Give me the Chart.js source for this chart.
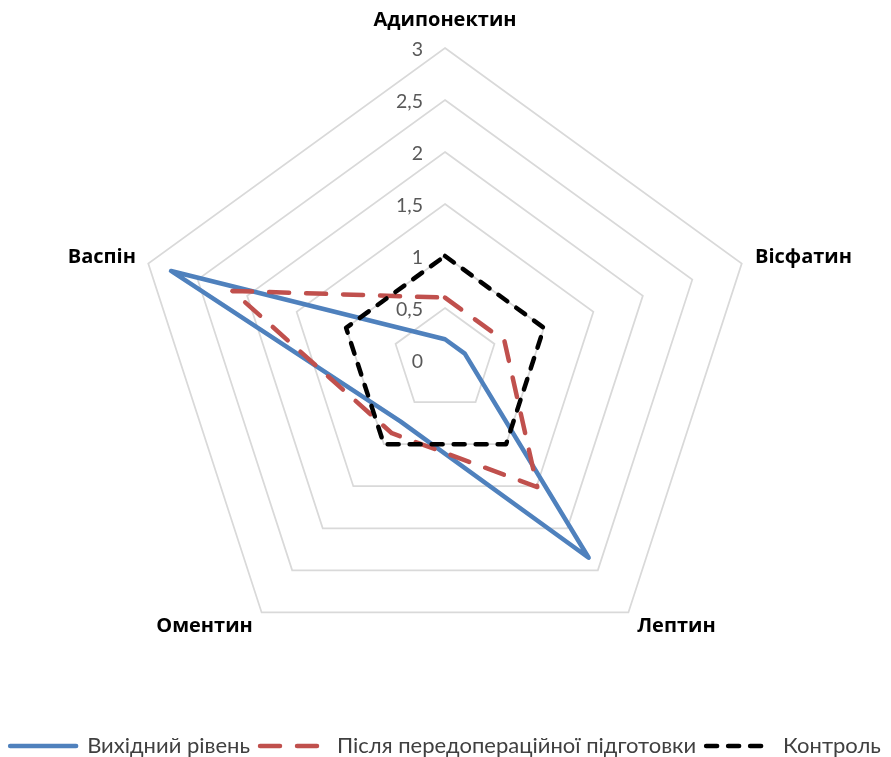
<!DOCTYPE html>
<html lang="uk">
<head>
<meta charset="utf-8">
<title>Адипокіни</title>
<script src="https://cdn.jsdelivr.net/npm/chart.js@4/dist/chart.umd.min.js"></script>
<style>
  html, body { margin: 0; padding: 0; background: #ffffff; }
  #wrap { width: 891px; height: 757px; }
</style>
</head>
<body>
<div id="wrap"><canvas id="chart" width="891" height="757"></canvas></div>
<script>
// Adipokine profile: categories and series values
const categories = ['Адипонектин', 'Вісфатин', 'Лептин', 'Оментин', 'Васпін'];
const seriesNames = ['Вихідний рівень', 'Після передопераційної підготовки', 'Контроль'];
const baselineValues = [0.2, 0.2, 2.35, 0.73, 2.77];
const afterPrepValues = [0.6, 0.6, 1.51, 0.87, 2.15];
const controlValues = [1, 1, 1, 1, 1];
const tickLabels = ['0', '0,5', '1', '1,5', '2', '2,5', '3'];
const AXIS_MIN = 0;
const AXIS_MAX = 3;
const AXIS_STEP = 0.5;

// Layout of the radar web
const WEB_CENTER_Y = 360;
const WEB_RADIUS = 312;
const LABEL_GAP = [26, 14, 15, 15, 13];

const BLUE = '#4f81bd';
const RED = '#c0504d';
const BLACK = '#000000';

// Value labels on the vertical axis, right-aligned just left of the centre
const axisValueLabels = {
  id: 'axisValueLabels',
  beforeDatasetsDraw(chart) {
    const scale = chart.scales.r;
    const ctx = chart.ctx;
    ctx.save();
    ctx.font = '19.5px Lato, "Open Sans", sans-serif';
    ctx.fillStyle = '#595959';
    ctx.textAlign = 'right';
    ctx.textBaseline = 'middle';
    scale.ticks.forEach((tick) => {
      const y = scale.yCenter - scale.getDistanceFromCenterForValue(tick.value) + 1.5;
      ctx.fillText(tick.label, scale.xCenter - 22, y);
    });
    ctx.restore();
  }
};

new Chart(document.getElementById('chart'), {
  type: 'radar',
  data: {
    labels: categories,
    datasets: [
      {
        label: seriesNames[0],
        data: baselineValues,
        borderColor: BLUE,
        backgroundColor: BLUE,
        borderWidth: 4.5,
        borderDash: [],
        order: 3
      },
      {
        label: seriesNames[1],
        data: afterPrepValues,
        borderColor: RED,
        backgroundColor: RED,
        borderWidth: 4.5,
        borderDash: [20, 17],
        order: 2
      },
      {
        label: seriesNames[2],
        data: controlValues,
        borderColor: BLACK,
        backgroundColor: BLACK,
        borderWidth: 4.5,
        borderDash: [11, 11],
        order: 1
      }
    ]
  },
  options: {
    responsive: false,
    animation: false,
    devicePixelRatio: 1,
    locale: 'uk-UA',
    layout: { padding: { top: 0, left: 0, right: 0, bottom: -10 } },
    elements: {
      line: { fill: false, tension: 0, borderCapStyle: 'round', borderJoinStyle: 'round' },
      point: { radius: 0, hoverRadius: 0 }
    },
    scales: {
      r: {
        min: AXIS_MIN,
        max: AXIS_MAX,
        beginAtZero: true,
        afterSetDimensions(scale) {
          scale.xCenter = Math.floor((scale.left + scale.right) / 2);
          scale.yCenter = scale.top + WEB_CENTER_Y;
          scale.drawingArea = WEB_RADIUS;
        },
        ticks: {
          stepSize: AXIS_STEP,
          display: false,
          callback: (value, index) => tickLabels[index]
        },
        grid: { color: '#d9d9d9', lineWidth: 1.75, circular: false },
        angleLines: { display: false },
        pointLabels: {
          display: true,
          padding: (ctx) => LABEL_GAP[ctx.index],
          color: '#000000',
          font: { family: '"Open Sans", "DejaVu Sans", sans-serif', weight: 'bold', size: 20, lineHeight: 0.2 }
        }
      }
    },
    plugins: {
      tooltip: { enabled: false },
      legend: {
        position: 'bottom',
        align: 'center',
        labels: {
          usePointStyle: true,
          pointStyleWidth: 66,
          padding: 10,
          color: '#404040',
          font: { family: 'Lato, "Open Sans", sans-serif', size: 22 },
          generateLabels(chart) {
            return chart.data.datasets.map((ds, i) => ({
              text: ds.label,
              fillStyle: ds.borderColor,
              strokeStyle: ds.borderColor,
              lineWidth: ds.borderWidth,
              lineDash: ds.borderDash,
              lineCap: 'round',
              pointStyle: 'line',
              fontColor: '#404040',
              hidden: !chart.isDatasetVisible(i),
              datasetIndex: i
            }));
          }
        }
      }
    }
  },
  plugins: [axisValueLabels]
});
</script>
</body>
</html>
